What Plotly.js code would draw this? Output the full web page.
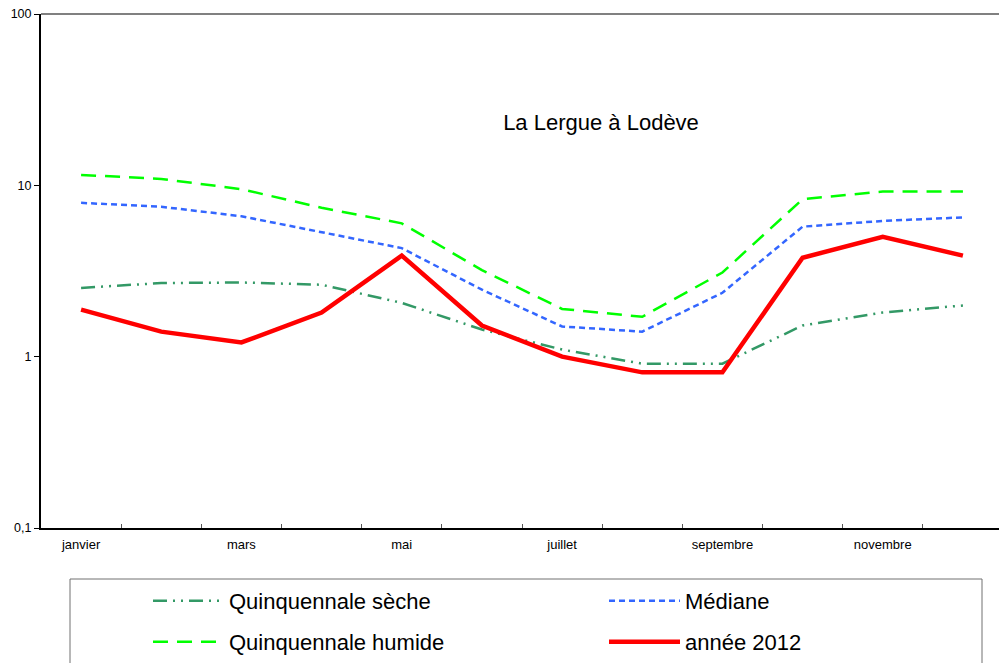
<!DOCTYPE html>
<html>
<head>
<meta charset="utf-8">
<script src="https://cdn.plot.ly/plotly-3.0.1.min.js"></script>
<style>html,body{margin:0;padding:0;background:#fff;}#chart{width:999px;height:663px;}</style>
</head>
<body>
<div id="chart"></div>
<script>
var months = ["janvier","février","mars","avril","mai","juin","juillet","août","septembre","octobre","novembre","décembre"];
var monthLabels = ["janvier","","mars","","mai","","juillet","","septembre","","novembre",""];
var seche = [2.52, 2.69, 2.71, 2.63, 2.06, 1.44, 1.1, 0.91, 0.91, 1.52, 1.81, 1.99];
var mediane = [7.9, 7.5, 6.6, 5.3, 4.3, 2.46, 1.5, 1.4, 2.36, 5.74, 6.2, 6.5];
var humide = [11.5, 10.9, 9.5, 7.4, 6.0, 3.2, 1.9, 1.71, 3.1, 8.3, 9.2, 9.2];
var annee2012 = [1.88, 1.40, 1.21, 1.81, 3.89, 1.52, 1.0, 0.81, 0.81, 3.78, 5.0, 3.89];
var yTickVals = [0.1, 1, 10, 100];
var yTickText = ["0,1", "1", "10", "100"];
var chartTitle = "La Lergue à Lodève";

var FONT = "Liberation Sans, Arial, sans-serif";

var traces = [
  {x: months, y: seche, name: "Quinquennale sèche", mode: "lines", legend: "legend",
   line: {color: "#339966", width: 2.5, dash: "14px,6px,2px,6px,2px,6px"}},
  {x: months, y: mediane, name: "Médiane", mode: "lines", legend: "legend2",
   line: {color: "#3366ff", width: 2.5, dash: "6px,4px"}},
  {x: months, y: humide, name: "Quinquennale humide", mode: "lines", legend: "legend3",
   line: {color: "#00ff00", width: 2.5, dash: "15px,9px"}},
  {x: months, y: annee2012, name: "année 2012", mode: "lines", legend: "legend4",
   line: {color: "#ff0000", width: 4.5}}
];

function leg(x, y) {
  return {
    orientation: "h", xanchor: "left", yanchor: "middle", x: x, y: y,
    font: {family: FONT, size: 22, color: "#000"},
    itemwidth: 71, bgcolor: "rgba(0,0,0,0)", borderwidth: 0
  };
}
var row1 = (528 - 601) / 514, row2 = (528 - 642) / 514;
var col1 = (148 - 41) / 958, col2 = (604 - 41) / 958;

var layout = {
  width: 999, height: 663,
  margin: {l: 41, r: 0, t: 14, b: 135, pad: 0, autoexpand: false},
  paper_bgcolor: "#fff", plot_bgcolor: "#fff",
  font: {family: FONT, color: "#000"},
  title: {text: chartTitle, font: {family: FONT, size: 22, color: "#000"},
          xref: "container", yref: "container", x: 601/999, y: 1 - 122/663,
          xanchor: "center", yanchor: "middle"},
  showlegend: true,
  legend: leg(col1, row1),
  legend2: leg(col2, row1),
  legend3: leg(col1, row2),
  legend4: leg(col2, row2),
  xaxis: {
    type: "category", range: [-0.5, 11.45], tickson: "boundaries",
    tickmode: "array", tickvals: months, ticktext: monthLabels,
    ticks: "inside", ticklen: 4, tickwidth: 1, tickcolor: "#555",
    showline: true, linecolor: "#000", linewidth: 2,
    showgrid: false, zeroline: false, ticklabelstandoff: 3,
    tickfont: {family: FONT, size: 13, color: "#000"}, fixedrange: true
  },
  yaxis: {
    type: "log", range: [-1, 2],
    tickmode: "array", tickvals: yTickVals, ticktext: yTickText,
    ticks: "outside", ticklen: 5, tickwidth: 1, tickcolor: "#000",
    showline: true, linecolor: "#000", linewidth: 2,
    showgrid: false, zeroline: false,
    tickfont: {family: FONT, size: 12.5, color: "#000"}, fixedrange: true
  },
  shapes: [
    {type: "line", xref: "paper", yref: "paper", x0: 0, x1: 1, y0: 1, y1: 1,
     line: {color: "#808080", width: 2}},
    {type: "rect", xref: "paper", yref: "paper",
     x0: (70-41)/958, x1: (982-41)/958, y0: (528-579)/514, y1: (528-720)/514,
     line: {color: "#707070", width: 1}, fillcolor: "rgba(0,0,0,0)"}
  ]
};

Plotly.newPlot("chart", traces, layout, {staticPlot: true, displayModeBar: false});
</script>
</body>
</html>
